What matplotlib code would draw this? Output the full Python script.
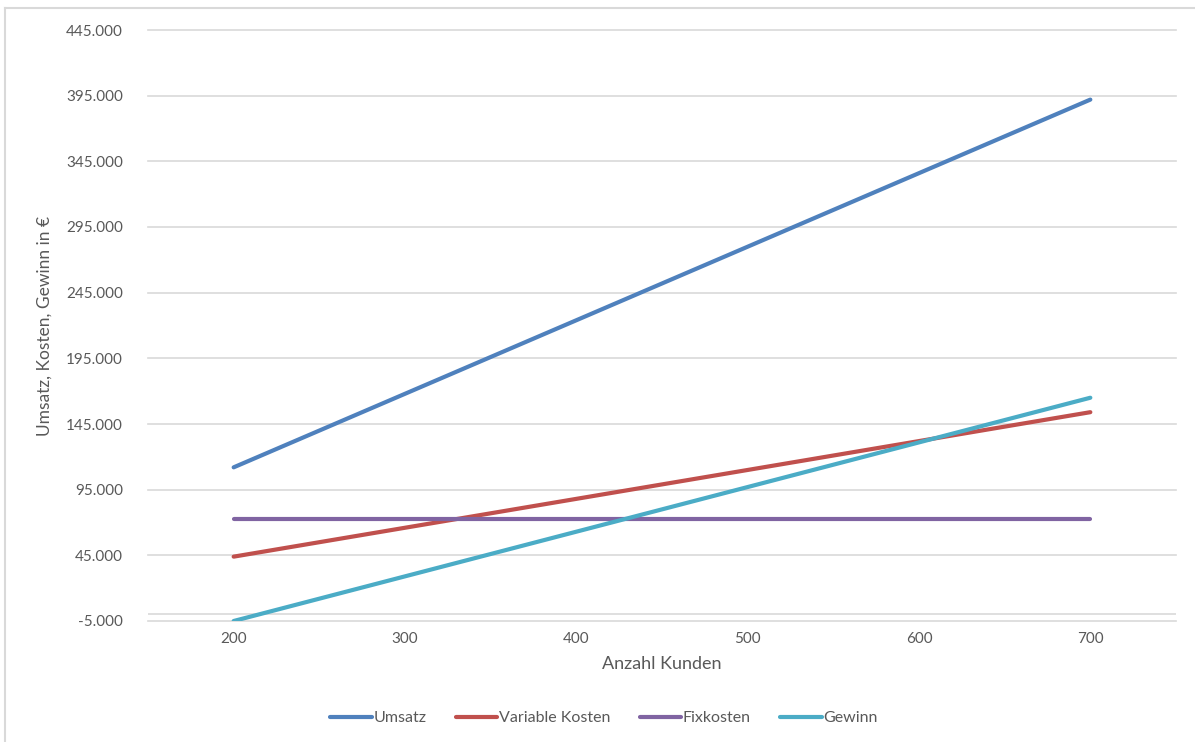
import matplotlib
matplotlib.use("Agg")
import matplotlib.pyplot as plt
from matplotlib.ticker import FuncFormatter
from matplotlib.lines import Line2D

plt.rcParams['font.family'] = ['Lato', 'DejaVu Sans']

kunden = [200, 300, 400, 500, 600, 700]
umsatz = [112000, 168000, 224000, 280000, 336000, 392000]
variable_kosten = [44000, 66000, 88000, 110000, 132000, 154000]
fixkosten = [73000, 73000, 73000, 73000, 73000, 73000]
gewinn = [-5000, 29000, 63000, 97000, 131000, 165000]

series = [
    ("Umsatz", umsatz, "#4F81BD"),
    ("Variable Kosten", variable_kosten, "#C0504D"),
    ("Fixkosten", fixkosten, "#8064A2"),
    ("Gewinn", gewinn, "#4BACC6"),
]

y_ticks = list(range(-5000, 445001, 50000))
x_ticks = [200, 300, 400, 500, 600, 700]

text_color = "#595959"
grid_color = "#D9D9D9"

fig = plt.figure(figsize=(11.95, 7.42), dpi=100)
ax = fig.add_axes([148 / 1195, 1 - 621 / 742, (1176 - 148) / 1195, (621 - 30) / 742])

for name, vals, col in series:
    ax.plot(kunden, vals, color=col, lw=3.0, solid_capstyle='round', label=name, zorder=3)

ax.set_xlim(150, 750)
ax.set_ylim(-5000, 445000)
ax.set_yticks(y_ticks)
ax.set_xticks(x_ticks)
ax.yaxis.set_major_formatter(FuncFormatter(lambda v, p: f"{int(v):,}".replace(",", ".")))

ax.grid(axis='y', color=grid_color, lw=1.2, zorder=0)
for gl in ax.get_ygridlines():
    gl.set_clip_on(False)
ax.axhline(0, color=grid_color, lw=1.2, zorder=1)
for s in ax.spines.values():
    s.set_visible(False)
ax.tick_params(axis='both', length=0, labelsize=11, labelcolor=text_color)
ax.tick_params(axis='y', pad=18)
ax.tick_params(axis='x', pad=8)

ax.set_xlabel("Anzahl Kunden", fontsize=13, color=text_color, labelpad=7)
ax.set_ylabel("Umsatz, Kosten, Gewinn in €", fontsize=12.5, color=text_color, labelpad=10)

handles = [Line2D([0], [0], color=c, lw=3.0, solid_capstyle='round') for _, _, c in series]
fig.legend(handles, [n for n, _, _ in series], loc='center', bbox_to_anchor=(604 / 1195, 1 - 718 / 742),
           ncol=4, frameon=False, fontsize=11.5, labelcolor=text_color, handlelength=2.6,
           handletextpad=0.1, columnspacing=1.85)

# chart frame (left and top edges)
fig.add_artist(Line2D([5 / 1195, 5 / 1195], [0, 1 - 8 / 742], transform=fig.transFigure, color="#D9D9D9", lw=1.5))
fig.add_artist(Line2D([5 / 1195, 1], [1 - 8 / 742, 1 - 8 / 742], transform=fig.transFigure, color="#D9D9D9", lw=1.5))

fig.savefig("out.png", dpi=100, facecolor="white")
